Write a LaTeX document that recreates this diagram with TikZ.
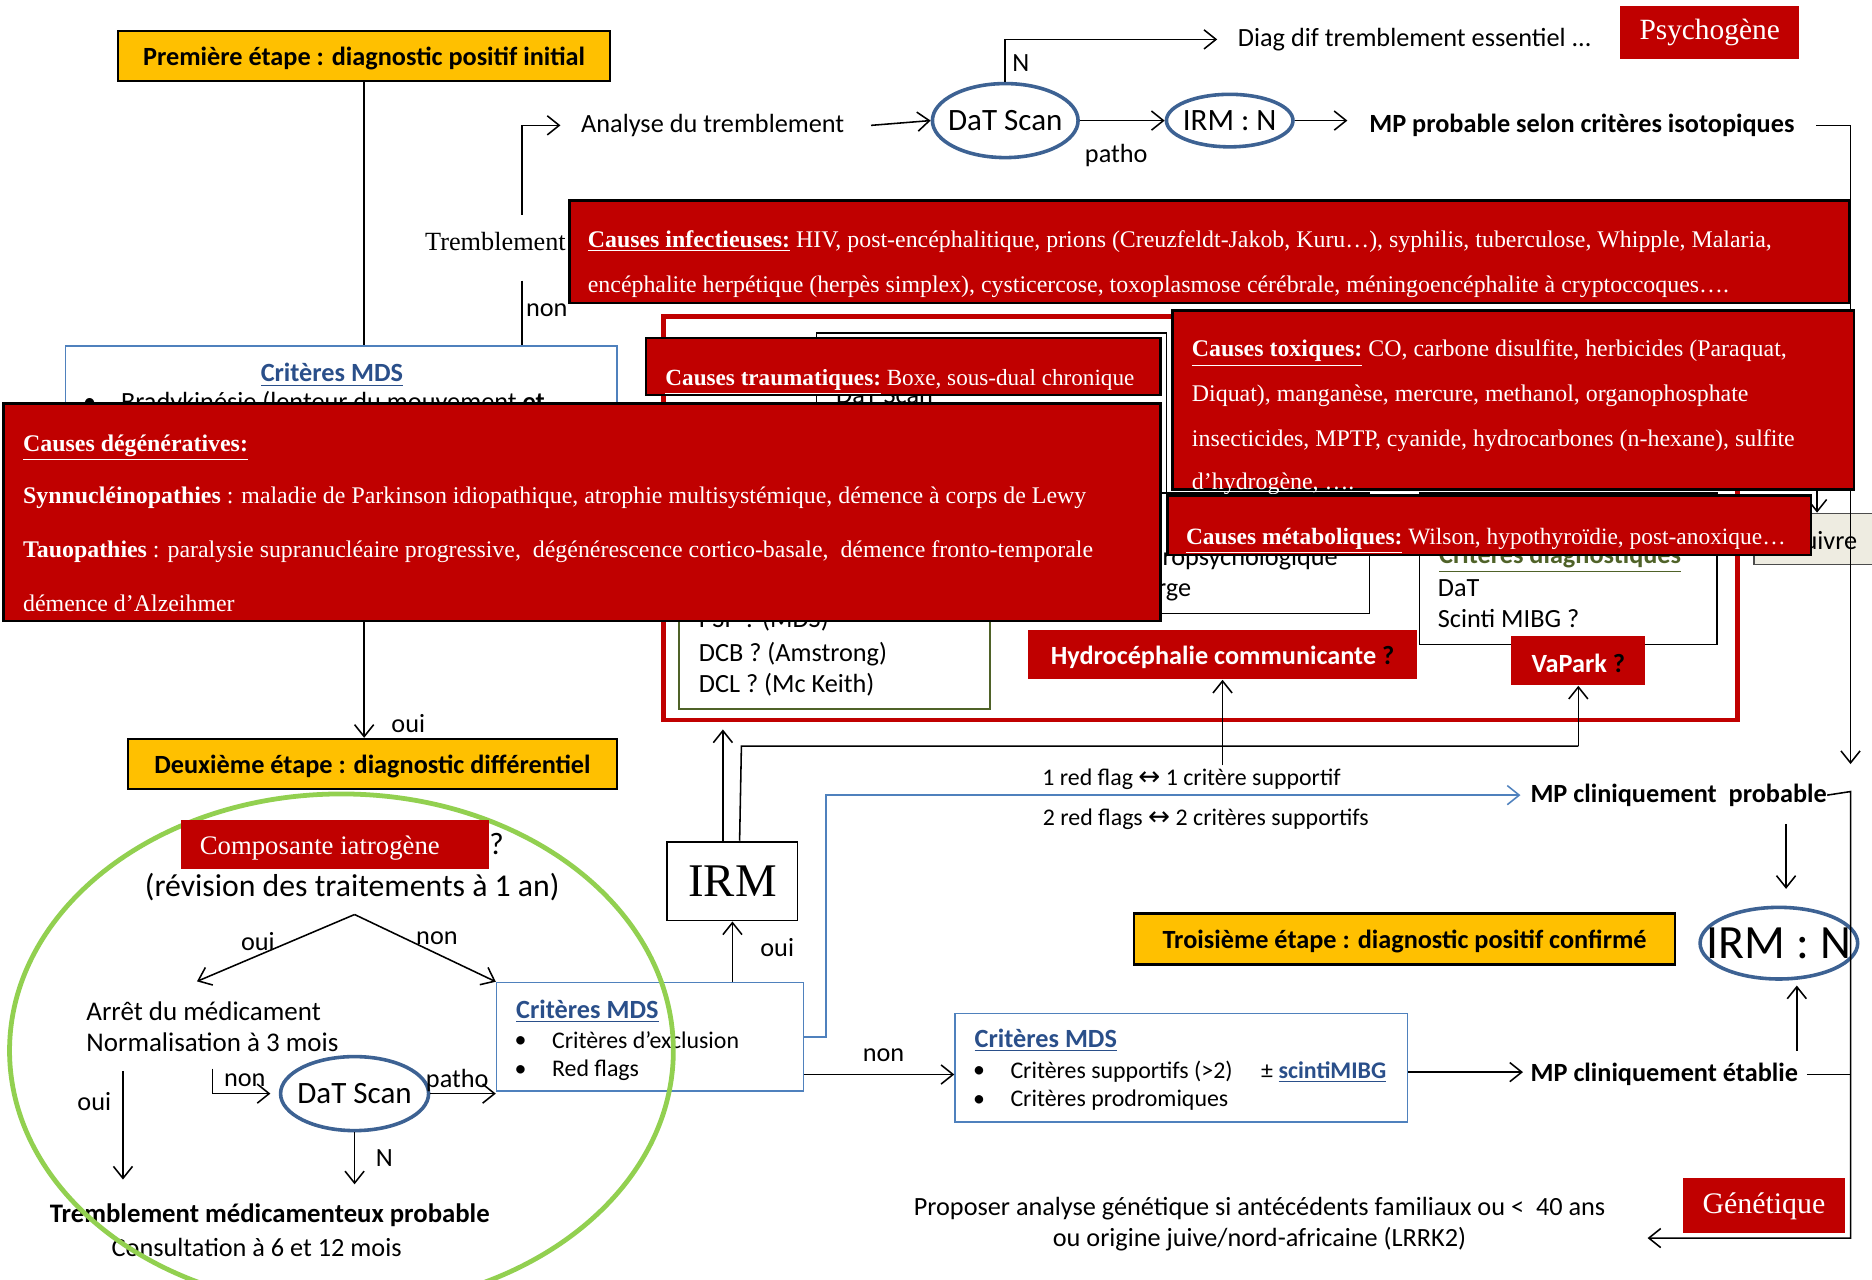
\documentclass[tikz,border=0pt]{standalone}
\usepackage{fontspec}
\setmainfont{Liberation Serif}
\newfontfamily\calib{Carlito}
\newfontfamily\djv{DejaVu Sans}
\usetikzlibrary{arrows.meta,shapes.geometric}
\definecolor{ylw}{HTML}{FFC000}
\definecolor{rd}{HTML}{C00000}
\definecolor{elb}{HTML}{3D6293}
\definecolor{bxb}{HTML}{4F81BD}
\definecolor{ttl}{HTML}{2A4F8A}
\definecolor{grn}{HTML}{92D050}
\definecolor{olv}{HTML}{4F6228}
\definecolor{bge}{HTML}{EEECE1}
\newcommand\myfs[1]{\fontsize{#1}{#1}\selectfont}
\tikzset{
  arr/.style={-{Straight Barb[length=5pt,width=8pt]}, line width=0.65pt},
  ln/.style={line width=0.65pt},
  ybox/.style={draw=black, line width=1pt, fill=ylw, inner sep=0pt, font=\calib\bfseries\myfs{11pt}},
  ytxt/.style={inner sep=0pt, yshift=-1pt, font=\calib\bfseries\myfs{11pt}},
  rbox/.style={draw=black, line width=1pt, fill=rd, inner sep=0pt},
  rfill/.style={fill=rd, inner sep=0pt},
  rtxt/.style={anchor=base west, inner sep=0pt, yshift=-1pt, text=white, font=\myfs{10pt}},
  lbl/.style={inner sep=0pt, yshift=-1pt, font=\calib\myfs{11pt}},
  lblw/.style={lbl, anchor=base west},
  ell/.style={draw=elb, line width=1.5pt, ellipse, inner sep=0pt},
  wbox/.style={draw=bxb, line width=0.7pt, fill=white, inner sep=0pt},
  hbox/.style={draw=black, line width=0.6pt, fill=white, inner sep=0pt},
  ttlf/.style={inner sep=0pt, text=ttl, font=\calib\bfseries\myfs{11pt}},
  sml/.style={inner sep=0pt, yshift=-1pt, font=\calib\myfs{10pt}},
  smlw/.style={sml, anchor=base west},
}
\begin{document}
\begin{tikzpicture}[x=0.5pt,y=-0.5pt]
\useasboundingbox (0,0) rectangle (1568,1072);
\fill[white] (0,0) rectangle (1568,1072);

% ---------- hidden boxes inside the red frame
\node[hbox, minimum width=146.5pt, minimum height=80.5pt] (boxa) at (830.5,359.5) {};
\node[lblw] (boxatxt) at (700,336) {DaT Scan};
\node[hbox, minimum width=213.5pt, minimum height=50.5pt] (neuro) at (933.5,463.5) {};
\node[lbl, anchor=base east] (neuro1) at (1121,472) {Bilan neuropsychologique};
\node[lbl, anchor=base east] (neuro2) at (998,498) {Prise en charge};
\node[hbox, minimum width=124.5pt, minimum height=63.5pt] (crit) at (1313.5,476.5) {};
\node[lblw, text=olv, font=\calib\bfseries\myfs{11pt}] (crit0) at (1205,470) {\underline{Critères diagnostiques}};
\node[lblw] (crit1) at (1204,498) {DaT};
\node[lblw] (crit2) at (1204,524) {Scinti MIBG ?};
\node[draw=olv, line width=0.7pt, fill=white, inner sep=0pt, minimum width=130pt, minimum height=77pt] (gbox) at (699,517) {};
\node[lblw] (g0) at (585,524) {PSP ? (MDS)};
\node[lblw] (g1) at (585,552) {DCB ? (Amstrong)};
\node[lblw] (g2) at (585,578) {DCL ? (Mc Keith)};
\node[draw=black!70, line width=0.6pt, fill=bge, inner sep=0pt, minimum width=60.5pt, minimum height=21.5pt] (suiv) at (1529.5,451.5) {};
\node[lbl, anchor=base east] (suivt) at (1556,458) {Suivre};
\coordinate (suivin) at (1522,395);
\draw[arr] (suivin) -- (suivin |- suiv.north);
\node[draw=rd, line width=2pt, inner sep=0pt, minimum width=449.5pt, minimum height=169pt] (frame) at (1005.5,434) {};

% ---------- first criteria box (mostly hidden)
\node[wbox, minimum width=231pt, minimum height=80pt] (mdsA) at (286,370) {};
\node[ttlf, yshift=-1pt] (mdsAt) at (278,312) {\underline{Critères MDS}};
\node[lbl] (mdsAb) at (75,337) {\textbullet};
\node[lblw] (mdsA1) at (101,342) {Bradykinésie (lenteur du mouvement \textbf{et}};

% ---------- red question boxes
\node[rfill, minimum width=163pt, minimum height=20.5pt] (hydro) at (1024,548.5) {};
\node[ytxt, text=white] (hydrot) at (hydro) {Hydrocéphalie communicante \textcolor{black}{?}};
\node[rfill, minimum width=56pt, minimum height=20.5pt] (vapark) at (1322,553.5) {};
\node[ytxt, text=white] (vaparkt) at (vapark) {VaPark \textcolor{black}{?}};

% ---------- main nodes
\node[ybox, minimum width=206pt, minimum height=21pt] (et1) at (305,47) {};
\node[ytxt] (et1t) at (et1) {Première étape : diagnostic positif initial};
\node[ybox, minimum width=205pt, minimum height=21pt] (et2) at (312,640) {};
\node[ytxt] (et2t) at (et2) {Deuxième étape : diagnostic différentiel};
\node[ybox, minimum width=226.5pt, minimum height=21.5pt] (et3) at (1176.5,786.5) {};
\node[ytxt] (et3t) at (et3) {Troisième étape : diagnostic positif confirmé};

\node[lbl] (analyse) at (597,103) {Analyse du tremblement};
\node[inner sep=0pt, font=\myfs{11pt}] (tremb) at (415,202) {Tremblement};
\node[ell, minimum width=61pt, minimum height=31pt] (dat1) at (842,101) {};
\node[inner sep=0pt, font=\calib\myfs{13pt}] (dat1t) at (dat1) {DaT Scan};
\node[ell, minimum width=53pt, minimum height=22pt] (irm1) at (1030,101) {};
\node[inner sep=0pt, font=\calib\myfs{13pt}] (irm1t) at (irm1) {IRM : N};
\node[lbl] (diag) at (1185,31) {Diag dif tremblement essentiel ...};
\node[rfill, minimum width=75pt, minimum height=22pt, text=white, font=\myfs{12.3pt}] (psy) at (1432,27) {Psychogène};
\node[lbl, font=\calib\bfseries\myfs{11pt}] (mpiso) at (1325,103) {MP probable selon critères isotopiques};

\node[draw=black, line width=0.8pt, fill=white, inner sep=0pt, minimum width=54.5pt, minimum height=33pt, font=\myfs{19.6pt}] (irmb) at (613.5,738) {IRM};
\node[lbl, font=\calib\bfseries\myfs{11pt}] (mpcp) at (1406,664) {MP cliniquement\ \ probable};
\node[lbl, font=\calib\bfseries\myfs{11pt}] (mpce) at (1394,898) {MP cliniquement établie};
\node[ell, minimum width=66pt, minimum height=30pt] (irm2) at (1490,790) {};
\node[inner sep=0pt, font=\calib\myfs{20pt}] (irm2t) at (irm2) {IRM : N};
\node[rfill, minimum width=67.5pt, minimum height=23pt, text=white, font=\myfs{12.5pt}] (gen) at (1477.5,1010) {Génétique};
\node[lbl, align=center, font=\calib\fontsize{11pt}{13pt}\selectfont] (prop) at (1055,1023) {Proposer analyse génétique si antécédents familiaux ou <\ \ 40 ans\\ou origine juive/nord-africaine (LRRK2)};

\node[sml] (rf1) at (998,651) {1 red flag {\djv\fontsize{11pt}{11pt}\selectfont ↔} 1 critère supportif};
\node[sml] (rf2) at (1010,684) {2 red flags {\djv\fontsize{11pt}{11pt}\selectfont ↔} 2 critères supportifs};

% second criteria box
\node[wbox, minimum width=128.5pt, minimum height=45.5pt] (mdsB) at (544.5,868.5) {};
\node[ttlf, anchor=base west] (mdsBt) at (432,853) {\underline{Critères MDS}};
\node[sml] (mdsBb1) at (436,871) {\textbullet};
\node[smlw] (mdsB1) at (462,876) {Critères d’exclusion};
\node[sml] (mdsBb2) at (436,895) {\textbullet};
\node[smlw] (mdsB2) at (462,900) {Red flags};

% third criteria box
\node[wbox, minimum width=189.5pt, minimum height=45.5pt] (mdsC) at (989.5,894.5) {};
\node[ttlf, anchor=base west] (mdsCt) at (816,877) {\underline{Critères MDS}};
\node[sml] (mdsCb1) at (820,896) {\textbullet};
\node[smlw] (mdsC1) at (846,901) {Critères supportifs (>2)};
\node[smlw] (mdsC3) at (1056,901) {± \textcolor{ttl}{\bfseries\underline{scintiMIBG}}};
\node[sml] (mdsCb2) at (820,920) {\textbullet};
\node[smlw] (mdsC2) at (846,925) {Critères prodromiques};

% iatrogenic branch texts
\node[inner sep=0pt, yshift=-1pt, font=\calib\myfs{13.3pt}] (revis) at (295,741) {(révision des traitements à 1 an)};
\node[inner sep=0pt, font=\calib\myfs{13pt}] (qm) at (416,707) {?};
\node[lblw, font=\calib\myfs{11.3pt}] (arret) at (72,853) {Arrêt du médicament};
\node[lblw, font=\calib\myfs{11.3pt}] (normal) at (72,879) {Normalisation à 3 mois};
\node[ell, minimum width=62pt, minimum height=31pt] (dat2) at (297,916) {};
\node[inner sep=0pt, font=\calib\myfs{13pt}] (dat2t) at (dat2) {DaT Scan};
\node[inner sep=0pt, yshift=-1pt, font=\calib\bfseries\myfs{11.2pt}] (tmp) at (226,1016) {Tremblement médicamenteux probable};
\node[lbl] (consult) at (215,1043) {Consultation à 6 et 12 mois};

% ---------- connectors
\draw[ln] (et1.south) -- (et1.south |- mdsA.north);
\draw[arr] (et1.south |- mdsA.south) -- (et1.south |- et2.north);
\node[lbl] (loui1) at (342,604) {oui};
\coordinate (tup) at (437,180);
\coordinate (tdn) at (437,235);
\draw[arr] (tup) |- ([xshift=-8.5pt]analyse.west);
\draw[ln] (tdn) -- (tdn |- mdsA.north);
\node[lbl] (lnon1) at (458,258) {non};
\draw[arr] ([xshift=11pt]analyse.east) -- (dat1.west);
\draw[arr] (dat1.north) |- ([xshift=-8.5pt]diag.west);
\node[lbl] (lN1) at (855,51) {N};
\draw[arr] (dat1.east) -- (irm1.west);
\node[lbl] (lpatho1) at (935,128) {patho};
\draw[arr] (irm1.east) -- ([xshift=-9pt]irm1.east -| mpiso.west);
\coordinate (rtop) at (1550,640);
\draw[arr] ([xshift=9pt]mpiso.east) -| (rtop);

\draw[arr] (irmb.south |- mdsB.north) -- (irmb.south);
\node[lbl] (loui2) at (651,792) {oui};
\draw[arr, shorten >=3pt] ([xshift=-4pt]irmb.north) -- ([xshift=-4pt]irmb.north |- frame.south);
\coordinate (h1) at (621,625);
\draw[ln] ([xshift=3pt]irmb.north) -- (h1) -- (h1 -| vapark.south);
\draw[arr] (h1 -| vapark.south) -- (vapark.south);
\coordinate (hy) at (1024,641);
\draw[arr] (hy) -- (hydro.south);
\draw[arr, draw=bxb] (mdsB.east) -- ++(9pt,0) |- ([xshift=-4pt]mpcp.west);
\draw[arr] ([yshift=-15.75pt]mdsB.east) -- ([yshift=-15.75pt]mdsB.east -| mdsC.west);
\node[lbl] (lnon2) at (740,882) {non};
\draw[arr, shorten >=3pt] ([yshift=-1.75pt]mdsC.east) -- ([yshift=-1.75pt]mdsC.east -| mpce.west);
\coordinate (pa) at (1496,690);
\draw[arr, shorten >=7pt] (pa) -- (pa |- irm2.north);
\coordinate (pb) at (1505,880);
\draw[arr, shorten >=2pt] (pb) -- (pb |- irm2.south);
\coordinate (rr) at (1550,663);
\coordinate (genend) at (1380,1037);
\draw[arr] (mpcp.east) -- (rr) |- (genend);
\draw[ln] ([xshift=3.5pt]mpce.east) -- (mpce.east -| rr);

\coordinate (apex) at (297,766);
\coordinate (aleft) at (165,822);
\draw[arr] (apex) -- (aleft);
\draw[arr] (apex) -- (mdsB.north west);
\node[lbl] (loui3) at (216,787) {oui};
\node[lbl] (lnon3) at (366,784) {non};
\coordinate (ostart) at (103,897);
\draw[arr] (ostart) -- ++(0,91);
\node[lbl] (loui4) at (79,921) {oui};
\coordinate (nstart) at (178,895);
\draw[arr, shorten >=3.5pt] (nstart) |- (dat2.west);
\node[lbl] (lnon4) at (205,903) {non};
\draw[arr] (dat2.east) -- (dat2.east -| mdsB.west);
\node[lbl] (lpatho2) at (383,903) {patho};
\draw[arr, shorten >=8pt] (dat2.south) -- (dat2.south |- tmp.north);
\node[lbl] (lN2) at (322,968) {N};

% ---------- cause boxes
\node[rbox, minimum width=536pt, minimum height=43pt] (infect) at (1013,211) {};
\node[rtxt] (inf1) at (492,205) {\textbf{\underline{Causes infectieuses:}} HIV, post-encéphalitique, prions (Creuzfeldt-Jakob, Kuru…), syphilis, tuberculose, Whipple, Malaria,};
\node[rtxt] (inf2) at (492,243) {encéphalite herpétique (herpès simplex), cysticercose, toxoplasmose cérébrale, méningoencéphalite à cryptoccoques….};
\node[rbox, minimum width=215.5pt, minimum height=24pt] (trauma) at (756.5,307) {};
\node[rtxt, font=\myfs{9.7pt}] (tr1) at (557,321) {\textbf{\underline{Causes traumatiques:}} Boxe, sous-dual chronique};
\node[rbox, minimum width=285.5pt, minimum height=75pt] (toxic) at (1267.5,335) {};
\node[rtxt] (to1) at (998,297) {\textbf{\underline{Causes toxiques:}} CO, carbone disulfite, herbicides (Paraquat,};
\node[rtxt] (to2) at (998,334) {Diquat), manganèse, mercure, methanol, organophosphate};
\node[rtxt] (to3) at (998,372) {insecticides, MPTP, cyanide, hydrocarbones (n-hexane), sulfite};
\node[rtxt] (to4) at (998,408) {d’hydrogène, ….};
\node[rbox, minimum width=484.5pt, minimum height=91pt] (degen) at (487.5,429) {};
\node[rtxt] (de1) at (19,376) {\textbf{\underline{Causes dégénératives:}}};
\node[rtxt] (de2) at (19,420) {\textbf{Synnucléinopathies} : maladie de Parkinson idiopathique, atrophie multisystémique, démence à corps de Lewy};
\node[rtxt] (de3) at (19,465) {\textbf{Tauopathies} : paralysie supranucléaire progressive,\ \ dégénérescence cortico-basale,\ \ démence fronto-temporale};
\node[rtxt] (de4) at (19,510) {démence d’Alzeihmer};
\node[rbox, minimum width=269.5pt, minimum height=25pt] (metab) at (1247.5,440) {};
\node[rtxt, font=\myfs{9.8pt}] (me1) at (993,454) {\textbf{\underline{Causes métaboliques:}} Wilson, hypothyroïdie, post-anoxique…};

% ---------- iatrogenic circle and its label
\node[draw=grn, line width=2pt, ellipse, inner sep=0pt, minimum width=278pt, minimum height=215pt] (iatroell) at (286,880) {};
\node[rfill, minimum width=129pt, minimum height=20.5pt] (iatro) at (281,707.5) {};
\node[inner sep=0pt, anchor=west, yshift=-1pt, text=white, font=\myfs{11.2pt}] (iatrot) at (167,708) {Composante iatrogène};
\end{tikzpicture}
\end{document}
